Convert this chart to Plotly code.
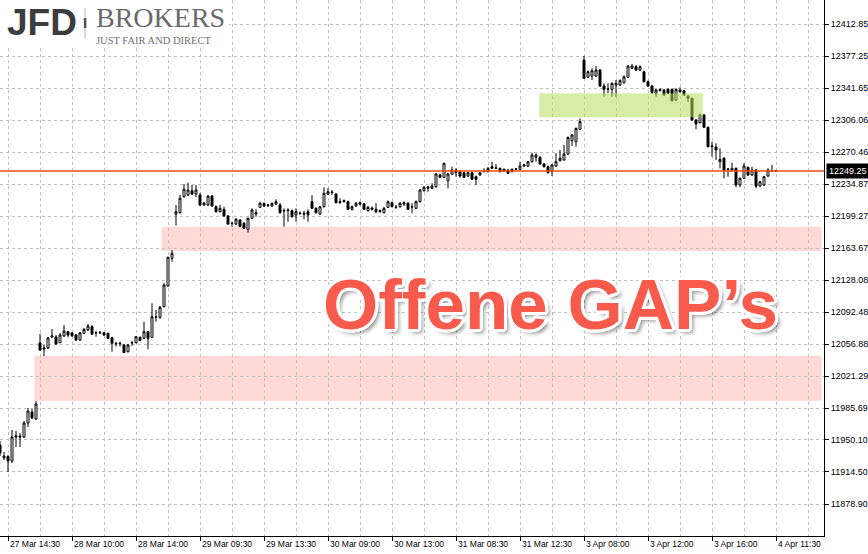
import plotly.graph_objects as go

# ---------------- data (M15 candles, bar index -2 .. 192) ----------------
bars = list(range(-2, 193))

opens = [
    11944.5, 11930.1, 11931.7, 11926.7, 11953.4, 11954.5, 11953.4, 11969.0, 11981.2, 11973.4,
    12058.0, 12051.3, 12052.4, 12064.7, 12064.7, 12058.3, 12065.8, 12070.6, 12069.1, 12066.9,
    12061.3, 12068.8, 12072.5, 12076.1, 12069.1, 12069.9, 12069.4, 12068.8, 12063.9, 12057.7,
    12057.2, 12055.8, 12048.3, 12058.0, 12058.3, 12064.3, 12063.2, 12070.6, 12064.3, 12086.6,
    12086.6, 12098.4, 12121.4, 12152.2, 12201.2, 12202.9, 12220.7, 12222.6, 12227.4, 12223.7,
    12222.6, 12211.5, 12211.5, 12221.5, 12209.6, 12204.1, 12206.7, 12199.3, 12190.9, 12190.4,
    12194.8, 12191.1, 12184.5, 12196.7, 12201.5, 12208.9, 12213.4, 12211.0, 12210.4, 12212.6,
    12211.5, 12204.8, 12205.2, 12205.2, 12200.4, 12202.6, 12202.3, 12204.1, 12215.2, 12207.8,
    12201.5, 12209.6, 12223.7, 12226.0, 12223.7, 12214.3, 12215.2, 12215.2, 12206.7, 12210.4,
    12212.6, 12212.6, 12205.2, 12208.2, 12206.7, 12204.1, 12202.9, 12208.9, 12214.1, 12209.3,
    12209.6, 12212.6, 12213.4, 12209.3, 12207.8, 12215.2, 12227.4, 12230.1, 12230.1, 12231.9,
    12244.9, 12242.3, 12238.5, 12246.0, 12250.4, 12248.6, 12247.4, 12243.8, 12247.4, 12243.0,
    12244.9, 12248.8, 12248.6, 12254.1, 12252.3, 12252.3, 12251.2, 12250.4, 12248.6, 12251.2,
    12251.2, 12254.9, 12254.9, 12259.7, 12264.6, 12264.6, 12257.1, 12254.1, 12248.6, 12254.9,
    12260.8, 12261.6, 12268.2, 12283.0, 12281.9, 12295.7, 12372.8, 12353.6, 12355.0, 12355.0,
    12361.7, 12343.9, 12340.2, 12340.2, 12345.0, 12345.0, 12347.6, 12353.6, 12363.6, 12365.4,
    12361.7, 12359.8, 12348.7, 12343.9, 12335.8, 12340.2, 12339.4, 12340.2, 12340.2, 12328.3,
    12339.4, 12338.7, 12332.8, 12330.2, 12306.1, 12303.1, 12311.6, 12297.9, 12276.4, 12276.0,
    12259.7, 12263.5, 12251.2, 12250.4, 12252.3, 12233.8, 12241.2, 12253.4, 12244.9, 12250.4,
    12232.6, 12233.8, 12243.8, 12249.9, 12249.7,
]
highs = [
    11949.0, 11936.7, 11933.4, 11961.2, 11960.1, 11957.9, 11971.2, 11985.7, 11984.6, 11993.5,
    12068.0, 12055.8, 12064.7, 12073.6, 12066.9, 12069.1, 12078.0, 12071.3, 12070.2, 12068.0,
    12070.2, 12074.7, 12079.1, 12078.0, 12071.7, 12071.3, 12070.2, 12069.1, 12064.7, 12059.4,
    12059.4, 12056.9, 12056.9, 12060.6, 12065.8, 12065.2, 12081.7, 12071.3, 12102.2, 12094.7,
    12099.2, 12124.7, 12154.0, 12161.4, 12211.5, 12222.6, 12234.9, 12236.3, 12233.8, 12233.8,
    12224.9, 12214.8, 12222.6, 12222.6, 12211.0, 12211.5, 12209.6, 12200.4, 12192.9, 12197.0,
    12195.9, 12192.6, 12197.6, 12207.8, 12206.7, 12215.2, 12214.3, 12212.6, 12214.3, 12217.8,
    12213.7, 12207.8, 12207.8, 12206.5, 12207.8, 12204.3, 12205.2, 12206.7, 12222.6, 12208.7,
    12210.4, 12231.2, 12230.1, 12228.2, 12224.9, 12219.0, 12217.6, 12216.5, 12211.0, 12214.8,
    12215.4, 12213.7, 12210.4, 12209.8, 12213.4, 12206.5, 12209.3, 12216.5, 12215.4, 12211.5,
    12214.8, 12215.4, 12214.8, 12213.4, 12216.5, 12229.3, 12232.6, 12232.6, 12235.6, 12247.1,
    12246.5, 12258.6, 12247.1, 12254.1, 12252.3, 12249.9, 12248.8, 12248.8, 12248.8, 12244.3,
    12248.8, 12252.3, 12253.8, 12259.7, 12257.1, 12253.2, 12252.1, 12251.6, 12252.1, 12252.7,
    12259.7, 12257.1, 12260.5, 12269.7, 12269.0, 12266.0, 12258.2, 12255.4, 12257.1, 12269.0,
    12272.7, 12278.3, 12287.7, 12290.5, 12297.7, 12308.0, 12377.3, 12361.1, 12363.6, 12366.1,
    12362.8, 12346.9, 12346.9, 12347.8, 12350.6, 12351.3, 12355.6, 12367.2, 12368.4, 12367.2,
    12366.7, 12361.1, 12350.0, 12345.0, 12340.5, 12341.1, 12340.5, 12341.1, 12341.1, 12341.1,
    12342.4, 12339.4, 12333.9, 12331.1, 12307.2, 12313.5, 12312.7, 12298.8, 12281.9, 12280.1,
    12274.6, 12264.9, 12252.3, 12258.6, 12253.2, 12242.1, 12257.9, 12254.3, 12254.1, 12251.6,
    12238.2, 12243.8, 12252.3, 12256.0, 12250.4,
]
lows = [
    11932.3, 11927.8, 11914.5, 11924.5, 11942.3, 11942.3, 11952.3, 11964.5, 11973.4, 11972.3,
    12049.1, 12043.5, 12051.3, 12063.6, 12055.8, 12058.0, 12064.7, 12064.3, 12064.7, 12060.2,
    12060.2, 12068.0, 12071.3, 12066.9, 12065.0, 12068.0, 12065.8, 12062.4, 12048.3, 12053.9,
    12053.9, 12046.9, 12047.4, 12054.7, 12058.0, 12060.2, 12062.4, 12051.0, 12063.6, 12081.7,
    12084.7, 12097.5, 12120.6, 12148.4, 12188.7, 12202.1, 12219.9, 12221.5, 12222.6, 12220.4,
    12210.4, 12210.4, 12210.4, 12209.3, 12203.2, 12203.2, 12198.2, 12189.3, 12187.4, 12189.3,
    12187.0, 12184.8, 12180.7, 12195.9, 12198.5, 12208.2, 12209.3, 12209.3, 12209.3, 12211.5,
    12202.1, 12187.4, 12192.9, 12197.6, 12192.9, 12200.4, 12195.6, 12192.9, 12207.1, 12202.1,
    12200.4, 12208.7, 12222.6, 12222.6, 12213.2, 12212.6, 12214.3, 12205.9, 12205.4, 12209.3,
    12211.0, 12205.9, 12204.3, 12205.4, 12202.3, 12203.2, 12202.1, 12208.2, 12208.7, 12207.1,
    12208.7, 12210.4, 12205.9, 12202.3, 12207.1, 12214.3, 12226.5, 12226.3, 12229.3, 12231.0,
    12241.5, 12241.5, 12230.1, 12244.9, 12243.0, 12241.9, 12241.5, 12242.7, 12239.3, 12233.8,
    12243.8, 12247.7, 12247.7, 12251.6, 12251.6, 12247.7, 12248.2, 12246.0, 12247.7, 12250.4,
    12250.4, 12253.8, 12253.8, 12258.8, 12259.7, 12256.0, 12253.2, 12246.5, 12243.8, 12253.8,
    12259.9, 12261.0, 12267.1, 12277.1, 12276.4, 12294.9, 12351.7, 12352.8, 12350.6, 12353.9,
    12342.8, 12332.0, 12335.8, 12332.0, 12332.0, 12343.9, 12346.7, 12352.8, 12362.8, 12360.6,
    12360.6, 12347.8, 12342.8, 12335.5, 12332.0, 12337.8, 12332.8, 12335.0, 12326.6, 12327.2,
    12336.7, 12332.8, 12326.4, 12305.0, 12295.7, 12302.2, 12297.2, 12275.5, 12265.2, 12261.6,
    12252.3, 12241.2, 12243.0, 12249.3, 12231.2, 12231.2, 12240.4, 12243.8, 12243.8, 12230.1,
    12231.5, 12232.6, 12242.7, 12248.2, 12248.2,
]
closes = [
    11935.6, 11932.3, 11926.7, 11953.4, 11954.5, 11953.4, 11969.0, 11982.3, 11974.5, 11990.1,
    12050.2, 12052.4, 12063.6, 12065.8, 12056.9, 12066.9, 12071.3, 12066.9, 12066.1, 12061.3,
    12069.4, 12073.2, 12076.9, 12067.7, 12069.4, 12069.4, 12066.9, 12063.2, 12057.7, 12057.2,
    12057.7, 12047.2, 12055.8, 12058.3, 12065.0, 12060.6, 12070.6, 12063.2, 12087.2, 12086.9,
    12097.7, 12122.5, 12153.3, 12157.8, 12204.1, 12219.0, 12229.0, 12228.2, 12223.7, 12228.2,
    12211.5, 12213.7, 12221.5, 12210.4, 12204.1, 12207.8, 12199.3, 12190.4, 12191.1, 12195.6,
    12187.4, 12185.6, 12196.7, 12205.9, 12202.9, 12213.4, 12210.4, 12211.5, 12213.4, 12215.2,
    12202.9, 12205.2, 12205.9, 12198.5, 12204.1, 12202.3, 12201.5, 12200.4, 12207.8, 12202.9,
    12209.6, 12224.5, 12226.3, 12225.4, 12214.1, 12215.2, 12216.3, 12206.7, 12209.6, 12213.4,
    12214.1, 12206.7, 12208.9, 12206.7, 12204.1, 12205.2, 12207.8, 12215.2, 12209.6, 12208.9,
    12213.4, 12214.1, 12206.7, 12209.6, 12215.2, 12228.2, 12231.2, 12231.5, 12232.6, 12246.0,
    12242.3, 12257.9, 12246.0, 12250.4, 12247.4, 12243.8, 12242.3, 12247.4, 12240.1, 12240.1,
    12247.4, 12249.3, 12252.3, 12252.3, 12252.7, 12248.6, 12249.3, 12246.8, 12251.2, 12251.6,
    12254.9, 12256.0, 12259.7, 12267.1, 12267.1, 12257.1, 12254.1, 12247.4, 12256.0, 12259.7,
    12263.5, 12268.2, 12286.6, 12289.4, 12296.8, 12304.2, 12352.5, 12359.8, 12360.9, 12361.7,
    12343.9, 12340.2, 12340.5, 12346.9, 12346.9, 12349.8, 12354.2, 12366.1, 12366.1, 12361.7,
    12365.4, 12348.7, 12343.9, 12336.4, 12339.4, 12338.7, 12333.9, 12335.8, 12327.5, 12340.2,
    12337.5, 12333.9, 12330.2, 12306.1, 12301.6, 12311.6, 12297.9, 12276.4, 12277.1, 12272.7,
    12262.3, 12250.4, 12251.6, 12252.3, 12233.8, 12241.2, 12254.9, 12244.9, 12250.4, 12232.6,
    12237.4, 12243.0, 12250.4, 12249.7, 12249.25,
]

x_label_bars = [0, 16, 32, 48, 64, 80, 96, 112, 128, 144, 160, 176, 192]
x_labels = ["27 Mar 14:30", "28 Mar 10:00", "28 Mar 14:00", "29 Mar 09:30", "29 Mar 13:30",
            "30 Mar 09:00", "30 Mar 13:00", "31 Mar 08:30", "31 Mar 12:30", "3 Apr 08:00",
            "3 Apr 12:00", "3 Apr 16:00", "4 Apr 11:30"]
x_grid_bars = [8, 24, 40, 56, 72, 88, 104, 120, 136, 152, 168, 184, 200]
y_ticks = [11878.90, 11914.50, 11950.10, 11985.69, 12021.29, 12056.88, 12092.48, 12128.08,
           12163.67, 12199.27, 12234.87, 12270.46, 12306.06, 12341.65, 12377.25, 12412.85]
y_tick_text = ["%.2f" % v for v in y_ticks]
last_price = 12249.25

# zones: (start bar, end bar or None = right edge, low price, high price)
gap_low = (6.6, None, 11993.8, 12043.9)
gap_high = (38.4, None, 12160.3, 12187.4)
resist_zone = (132.8, 173.7, 12309.1, 12335.8)

X_RANGE = [-2.0, 204.0]
Y_RANGE = [11843.3, 12439.55]
W, H = 868, 554
ML, MR, MT, MB = 0, 44, 0, 18
PW, PH = W - ML - MR, H - MT - MB


def px(xp):
    return xp / PW


def py(yp):
    return 1 - yp / PH


fig = go.Figure()
fig.add_trace(go.Candlestick(
    x=bars, open=opens, high=highs, low=lows, close=closes,
    increasing=dict(line=dict(color="black", width=1), fillcolor="white"),
    decreasing=dict(line=dict(color="black", width=1), fillcolor="black"),
    whiskerwidth=0, showlegend=False, hoverinfo="skip",
))

shapes = []
pink = "#ffd9d6"
for z in (gap_low, gap_high):
    shapes.append(dict(type="rect", xref="x", yref="y", x0=z[0], x1=203.4,
                       y0=z[2], y1=z[3], fillcolor=pink, line=dict(width=0),
                       layer="below"))
shapes.append(dict(type="rect", xref="x", yref="y", x0=resist_zone[0], x1=resist_zone[1],
                   y0=resist_zone[2], y1=resist_zone[3],
                   fillcolor="rgba(183,222,92,0.55)", line=dict(width=0), layer="above"))
# current price line
shapes.append(dict(type="line", xref="paper", yref="y", x0=0, x1=1, y0=last_price,
                   y1=last_price, line=dict(color="#ff4a12", width=1.5), layer="above"))
# logo background and separator
shapes.append(dict(type="rect", xref="paper", yref="paper", x0=0, x1=px(229), y0=py(47), y1=1,
                   fillcolor="white", line=dict(width=0), layer="above"))
shapes.append(dict(type="line", xref="paper", yref="paper", x0=px(85), x1=px(85), y0=py(38),
                   y1=py(8), line=dict(color="#b5b5b5", width=1), layer="above"))
shapes.append(dict(type="rect", xref="paper", yref="paper", x0=px(83.8), x1=px(86.4),
                   y0=py(28), y1=py(18), fillcolor="#555555", line=dict(width=0),
                   layer="above"))

annotations = []
for b, t in zip(x_label_bars, x_labels):
    annotations.append(dict(x=b, xref="x", y=0, yref="paper", text=t, showarrow=False,
                            xanchor="left", yanchor="top", xshift=0, yshift=-1,
                            font=dict(family="Liberation Sans", size=8.5, color="black")))
annotations.append(dict(x=1, xref="paper", y=last_price, yref="y", text="12249.25",
                        showarrow=False, xanchor="left", yanchor="middle", xshift=2,
                        bgcolor="black", borderpad=2,
                        font=dict(family="Liberation Sans", size=9, color="white")))
# logo
annotations.append(dict(x=px(5), y=py(23), xref="paper", yref="paper", text="<b>JFD</b>",
                        showarrow=False, xanchor="left", yanchor="middle",
                        font=dict(family="Liberation Sans", size=37, color="#3c3c3c")))
annotations.append(dict(x=px(95), y=py(34), xref="paper", yref="paper", text="BROKERS",
                        showarrow=False, xanchor="left", yanchor="bottom", borderpad=0,
                        font=dict(family="Liberation Serif", size=28, color="#6a6a6a")))
annotations.append(dict(x=px(95), y=py(34.2), xref="paper", yref="paper",
                        text="JUST FAIR AND DIRECT", showarrow=False, xanchor="left",
                        yanchor="top", borderpad=0,
                        font=dict(family="Liberation Serif", size=10.5, color="#707070")))
# big headline
outline = [(3, 0), (-3, 0), (0, 3), (0, -3), (2, 2), (-2, 2), (2, -2), (-2, -2),
           (3, 1), (-3, 1), (3, -1), (-3, -1), (1, 3), (-1, 3), (1, -3), (-1, -3)]
shadow = ", ".join("%dpx %dpx 0px #ffffff" % o for o in outline)
shadow += ", 4px 4px 4px rgba(0,0,0,0.45)"
annotations.append(dict(x=px(550.5), y=py(304), xref="paper", yref="paper",
                        text="<b>Offene GAP’s</b>", showarrow=False, xanchor="center",
                        yanchor="middle",
                        font=dict(family="Liberation Sans", size=71, color="#f85a4c",
                                  shadow=shadow)))

grid_col = "#c0c0c0"
fig.update_layout(
    width=W, height=H, autosize=False,
    margin=dict(l=ML, r=MR, t=MT, b=MB, pad=0, autoexpand=False),
    paper_bgcolor="white", plot_bgcolor="white",
    showlegend=False, hovermode=False,
    shapes=shapes, annotations=annotations,
    xaxis=dict(range=X_RANGE, fixedrange=True, rangeslider=dict(visible=False),
               tickmode="array", tickvals=x_label_bars, showticklabels=False,
               ticks="outside", ticklen=4, tickcolor="black", tickwidth=1,
               showline=True, linecolor="black", linewidth=1,
               showgrid=True, gridcolor=grid_col, griddash="3px,3px", gridwidth=1,
               zeroline=False,
               minor=dict(tickmode="array", tickvals=x_grid_bars, showgrid=True,
                          gridcolor=grid_col, griddash="3px,3px", gridwidth=1, ticks="")),
    yaxis=dict(range=Y_RANGE, fixedrange=True, side="right",
               tickmode="array", tickvals=y_ticks, ticktext=y_tick_text,
               ticks="outside", ticklen=4, tickcolor="black", tickwidth=1,
               tickfont=dict(family="Liberation Sans", size=9, color="black"),
               showline=True, linecolor="black", linewidth=1,
               showgrid=True, gridcolor=grid_col, griddash="3px,3px", gridwidth=1,
               zeroline=False),
)

fig.write_html("out.html", config={"displayModeBar": False},
               post_script="document.body.style.margin='0px';document.body.style.padding='0px';")
